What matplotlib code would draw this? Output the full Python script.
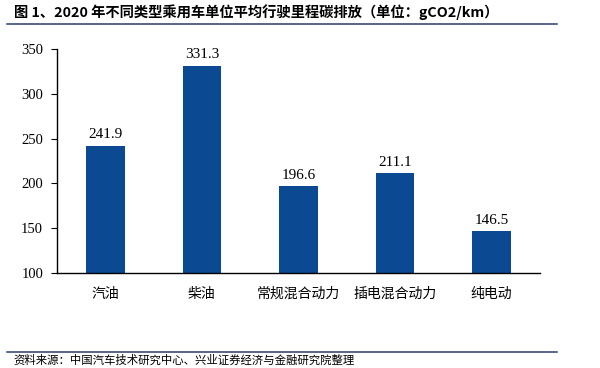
import matplotlib
matplotlib.use("Agg")
import matplotlib.pyplot as plt
from matplotlib.lines import Line2D

plt.rcParams['font.family'] = ['Liberation Serif', 'Noto Sans CJK SC']

categories = ['汽油', '柴油', '常规混合动力', '插电混合动力', '纯电动']
values = [241.9, 331.3, 196.6, 211.1, 146.5]
yticks = [100, 150, 200, 250, 300, 350]

title = '图 1、2020 年不同类型乘用车单位平均行驶里程碳排放（单位：gCO2/km）'
source = '资料来源：中国汽车技术研究中心、兴业证券经济与金融研究院整理'

bar_color = '#0b4a92'
line_color = '#2b3a6b'
cjk = ['Noto Sans CJK SC', 'DejaVu Sans']

fig = plt.figure(figsize=(6, 3.68), dpi=100)
ax = fig.add_axes([0.095, 0.258, 0.805, 0.609])

x = range(len(categories))
ax.bar(x, values, width=0.4, color=bar_color)
for i, v in zip(x, values):
    ax.text(i, v + 5, f'{v:.1f}', ha='center', va='bottom', fontsize=11,
            family='Liberation Serif')

ax.set_ylim(100, 350)
ax.set_xlim(-0.5, len(categories) - 0.5)
ax.set_yticks(yticks)
ax.set_xticks(list(x))
ax.set_xticklabels(categories, family=cjk, fontsize=10)
ax.tick_params(axis='x', length=0, pad=10)
ax.tick_params(axis='y', direction='out', length=4, labelsize=10.5, pad=6)
for s in ['top', 'right']:
    ax.spines[s].set_visible(False)
for s in ['left', 'bottom']:
    ax.spines[s].set_linewidth(1.0)

fig.text(0.023, 0.967, title, family=cjk, fontsize=10.3, fontweight='bold',
         ha='left', va='center')
fig.add_artist(Line2D([0.012, 0.928], [0.935, 0.935], color=line_color, lw=1.1))
fig.add_artist(Line2D([0.012, 0.928], [0.043, 0.043], color=line_color, lw=1.1))
fig.text(0.023, 0.022, source, family=cjk, fontsize=8.2, ha='left', va='center')

fig.savefig('out.png', dpi=100)
